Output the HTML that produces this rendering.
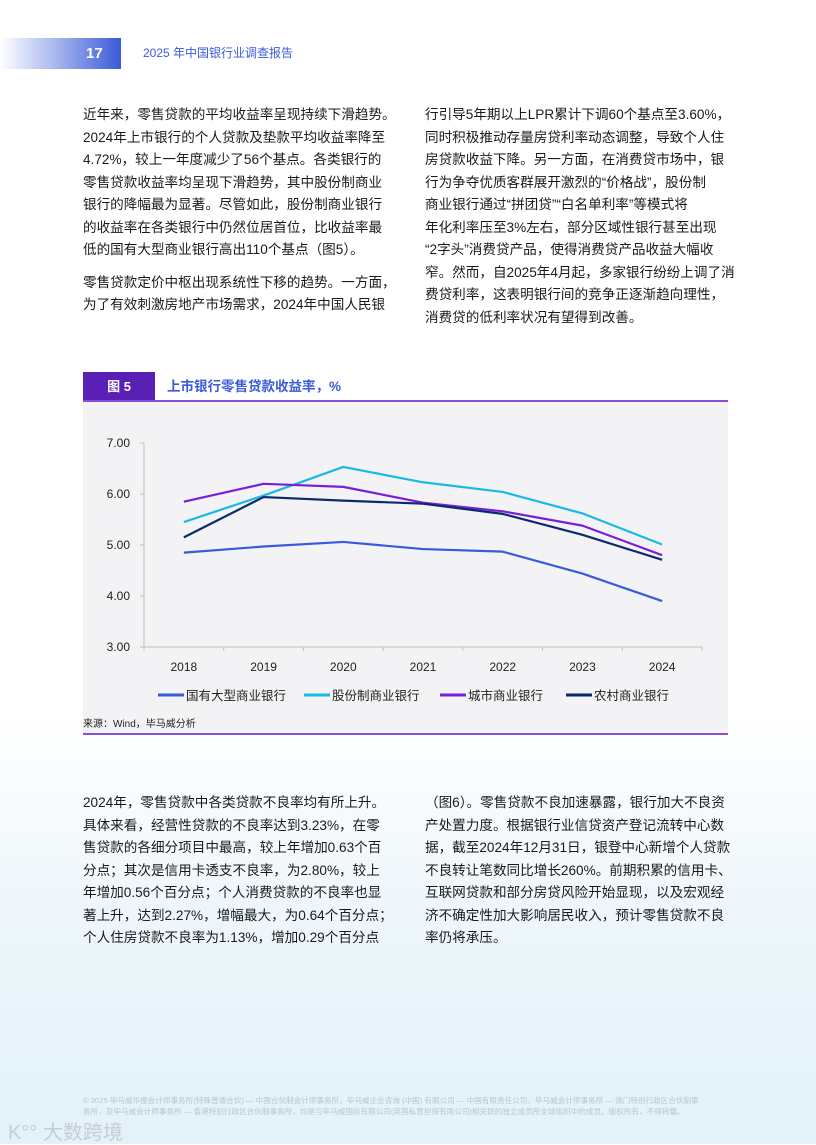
<!DOCTYPE html>
<html><head><meta charset="utf-8">
<style>
body{margin:0;width:816px;height:1144px;overflow:hidden;position:relative;font-family:"Liberation Sans","Noto Sans CJK SC",sans-serif;color:#1a1a1a;
background:linear-gradient(180deg,#ffffff 0%,#ffffff 62%,#eef6fb 80%,#e3f1f9 100%);}
.hdrbar{position:absolute;left:0;top:38px;width:121px;height:31px;background:linear-gradient(90deg,#ffffff 0%,#aab8ee 45%,#3a5bd9 100%);}
.pnum{position:absolute;left:86px;top:38px;width:22px;height:31px;line-height:31px;color:#fff;font-weight:bold;font-size:15px;}
.htitle{position:absolute;left:143px;top:38px;line-height:31px;color:#3a5bd9;font-size:12px;}
.col{position:absolute;font-size:13.6px;line-height:22.5px;white-space:nowrap;}
.col p{margin:0 0 10px 0;}
.chartbg{position:absolute;left:83px;top:401px;width:645px;height:334px;background:#f3f3f5;}
.figtag{position:absolute;left:83px;top:372px;width:72px;height:29px;background:#5a1fb5;color:#fff;font-weight:bold;font-size:13px;line-height:29px;text-align:center;}
.figtitle{position:absolute;left:167px;top:372px;line-height:29px;color:#3a5bd9;font-weight:bold;font-size:13.5px;}
.figline{position:absolute;left:83px;top:400px;width:645px;height:2px;background:#8a4fd8;}
.figline2{position:absolute;left:83px;top:733px;width:645px;height:2px;background:#8a4fd8;}
.src{position:absolute;left:83px;top:715px;font-size:10px;color:#222;}
.foot{position:absolute;left:83px;top:1095px;font-size:7.6px;line-height:11px;color:#b8c4cf;white-space:nowrap;}
.wm{position:absolute;left:8px;top:1116px;font-size:20px;color:#c5cdd6;}
</style></head><body>
<div class="hdrbar"></div>
<div class="pnum">17</div>
<div class="htitle">2025 年中国银行业调查报告</div>

<div class="col" style="left:83px;top:104px;">
<p>近年来，零售贷款的平均收益率呈现持续下滑趋势。<br>2024年上市银行的个人贷款及垫款平均收益率降至<br>4.72%，较上一年度减少了56个基点。各类银行的<br>零售贷款收益率均呈现下滑趋势，其中股份制商业<br>银行的降幅最为显著。尽管如此，股份制商业银行<br>的收益率在各类银行中仍然位居首位，比收益率最<br>低的国有大型商业银行高出110个基点（图5）。</p>
<p>零售贷款定价中枢出现系统性下移的趋势。一方面，<br>为了有效刺激房地产市场需求，2024年中国人民银</p>
</div>
<div class="col" style="left:425px;top:104px;">
<p>行引导5年期以上LPR累计下调60个基点至3.60%，<br>同时积极推动存量房贷利率动态调整，导致个人住<br>房贷款收益下降。另一方面，在消费贷市场中，银<br>行为争夺优质客群展开激烈的“价格战”，股份制<br>商业银行通过“拼团贷”“白名单利率”等模式将<br>年化利率压至3%左右，部分区域性银行甚至出现<br>“2字头”消费贷产品，使得消费贷产品收益大幅收<br>窄。然而，自2025年4月起，多家银行纷纷上调了消<br>费贷利率，这表明银行间的竞争正逐渐趋向理性，<br>消费贷的低利率状况有望得到改善。</p>
</div>

<div class="chartbg"></div>
<div class="figtag">图 5</div>
<div class="figtitle">上市银行零售贷款收益率，%</div>
<div class="figline"></div>
<svg id="chart" style="position:absolute;left:0;top:0" width="816" height="1144"></svg>
<div class="src">来源：Wind，毕马威分析</div>
<div class="figline2"></div>

<div class="col" style="left:83px;top:792px;">
<p>2024年，零售贷款中各类贷款不良率均有所上升。<br>具体来看，经营性贷款的不良率达到3.23%，在零<br>售贷款的各细分项目中最高，较上年增加0.63个百<br>分点；其次是信用卡透支不良率，为2.80%，较上<br>年增加0.56个百分点；个人消费贷款的不良率也显<br>著上升，达到2.27%，增幅最大，为0.64个百分点；<br>个人住房贷款不良率为1.13%，增加0.29个百分点</p>
</div>
<div class="col" style="left:425px;top:792px;">
<p>（图6）。零售贷款不良加速暴露，银行加大不良资<br>产处置力度。根据银行业信贷资产登记流转中心数<br>据，截至2024年12月31日，银登中心新增个人贷款<br>不良转让笔数同比增长260%。前期积累的信用卡、<br>互联网贷款和部分房贷风险开始显现，以及宏观经<br>济不确定性加大影响居民收入，预计零售贷款不良<br>率仍将承压。</p>
</div>

<div class="foot">© 2025 毕马威华振会计师事务所(特殊普通合伙) — 中国合伙制会计师事务所，毕马威企业咨询 (中国) 有限公司 — 中国有限责任公司，毕马威会计师事务所 — 澳门特别行政区合伙制事<br>务所，及毕马威会计师事务所 — 香港特别行政区合伙制事务所，均是与毕马威国际有限公司(英国私营担保有限公司)相关联的独立成员所全球组织中的成员。版权所有，不得转载。</div>
<div class="wm">K°° 大数跨境</div>

<script>
const years=["2018","2019","2020","2021","2022","2023","2024"];
const yTicks=[3,4,5,6,7];
const seriesNames=["国有大型商业银行","股份制商业银行","城市商业银行","农村商业银行"];
const stateOwned=[4.85,4.97,5.06,4.92,4.87,4.44,3.90];
const jointStock=[5.45,5.97,6.53,6.23,6.04,5.62,5.01];
const cityBanks=[5.85,6.20,6.14,5.83,5.66,5.38,4.80];
const ruralBanks=[5.15,5.94,5.87,5.81,5.61,5.20,4.71];
const colors=["#3a5bd9","#1ab8e8","#7a1fd6","#0a2a6b"];
const allSeries=[stateOwned,jointStock,cityBanks,ruralBanks];
const NS="http://www.w3.org/2000/svg";
const svg=document.getElementById('chart');
const x0=144,x1=702,yTop=443,yBot=647,yMin=3,yMax=7;
const step=(x1-x0)/years.length;
const X=i=>x0+step*(i+0.5);
const Y=v=>yBot-(v-yMin)/(yMax-yMin)*(yBot-yTop);
function mk(t,a){const e=document.createElementNS(NS,t);for(const k in a)e.setAttribute(k,a[k]);svg.appendChild(e);return e;}
let ax=mk('line',{x1:x0,y1:yTop,x2:x0,y2:yBot,stroke:'#bfbfbf','stroke-width':1});


let bx=mk('line',{x1:x0,y1:yBot,x2:x1,y2:yBot,stroke:'#bfbfbf','stroke-width':1});


yTicks.forEach(v=>{
  let t=mk('text',{x:x0-14,y:Y(v)+4,'text-anchor':'end','font-size':12,fill:'#222','font-family':'Liberation Sans, sans-serif'});
  t.textContent=v.toFixed(2);
  
  
  let tk=mk('line',{x1:x0-4,y1:Y(v),x2:x0,y2:Y(v),stroke:'#bfbfbf'});
  
  
});
for(let i=0;i<=years.length;i++){
  let tk=mk('line',{x1:x0+step*i,y1:yBot,x2:x0+step*i,y2:yBot+4,stroke:'#bfbfbf'});
  
  
}
years.forEach((y,i)=>{
  let t=mk('text',{x:X(i),y:yBot+24,'text-anchor':'middle','font-size':12,fill:'#222','font-family':'Liberation Sans, sans-serif'});
  t.textContent=y;
  
  
});
allSeries.forEach((s,k)=>{
  let p=mk('polyline',{points:s.map((v,i)=>X(i)+','+Y(v)).join(' '),fill:'none',stroke:colors[k],'stroke-width':2.2,'stroke-linejoin':'round'});
  
  
});
const legX=[158,304,440,566];
seriesNames.forEach((n,k)=>{
  let l=mk('line',{x1:legX[k],y1:695,x2:legX[k]+26,y2:695,stroke:colors[k],'stroke-width':3});
  
  
  let t=mk('text',{x:legX[k]+28,y:700,'font-size':12.5,fill:'#222','font-family':'Liberation Sans, Noto Sans CJK SC, sans-serif'});
  t.textContent=n;
  
  
});
</script>
</body></html>
